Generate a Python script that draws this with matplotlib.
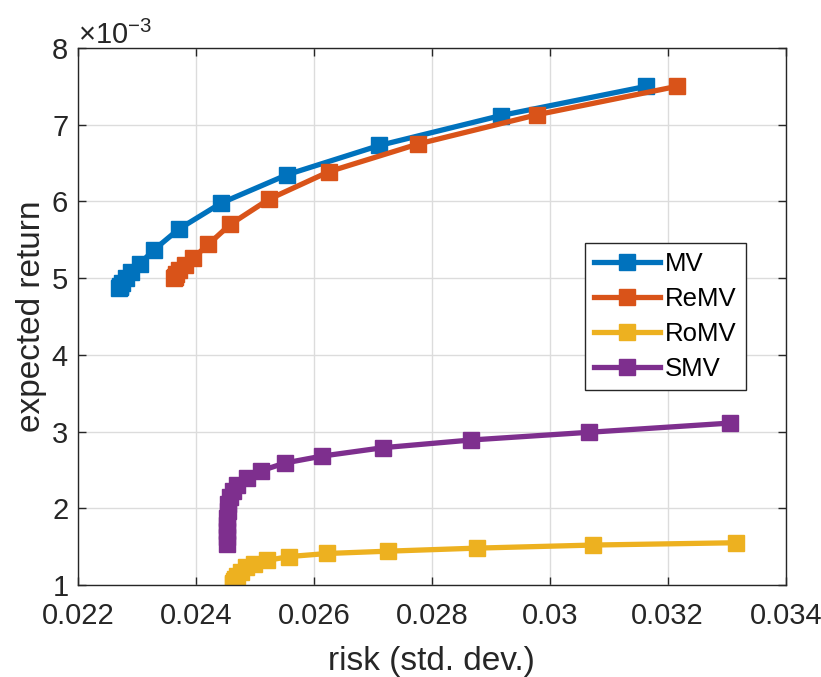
import numpy as np
import matplotlib.pyplot as plt
from matplotlib.ticker import ScalarFormatter

plt.rcParams['font.family'] = ['Liberation Sans', 'DejaVu Sans']
plt.rcParams['mathtext.fontset'] = 'custom'
plt.rcParams['mathtext.rm'] = 'Liberation Sans'

# efficient frontiers: risk (std. dev.) and expected return (x 1e-3)
mv_risk = [0.03163, 0.02917, 0.02711, 0.02555, 0.02443, 0.02371, 0.02329,
           0.02305, 0.02290, 0.02281, 0.02275, 0.02272, 0.02271, 0.02270]
mv_ret = [7.50, 7.12, 6.73, 6.35, 5.98, 5.64, 5.37,
          5.19, 5.08, 5.00, 4.94, 4.90, 4.88, 4.87]

remv_risk = [0.03215, 0.02978, 0.02777, 0.02626, 0.02524, 0.02458, 0.02421,
             0.02395, 0.02382, 0.02372, 0.02366, 0.02364, 0.02363]
remv_ret = [7.50, 7.13, 6.75, 6.39, 6.03, 5.70, 5.44,
            5.26, 5.17, 5.10, 5.05, 5.02, 5.00]

romv_risk = [0.03315, 0.03074, 0.02877, 0.02725, 0.02623, 0.02558, 0.02521,
             0.02499, 0.02485, 0.02477, 0.02470, 0.02466, 0.02464, 0.02463, 0.02463]
romv_ret = [1.55, 1.52, 1.48, 1.44, 1.41, 1.37, 1.32,
            1.27, 1.23, 1.17, 1.12, 1.08, 1.05, 1.03, 1.01]

smv_risk = [0.03305, 0.03066, 0.02867, 0.02718, 0.02614, 0.02551, 0.02511,
            0.02487, 0.02470, 0.02462, 0.02457, 0.02455, 0.02454, 0.02453,
            0.02453, 0.02453, 0.02453, 0.02453]
smv_ret = [3.11, 2.99, 2.89, 2.79, 2.68, 2.59, 2.49,
           2.39, 2.30, 2.22, 2.14, 2.05, 1.96, 1.87,
           1.78, 1.70, 1.62, 1.53]

series = [
    ('MV', mv_risk, mv_ret, '#0072BD'),
    ('ReMV', remv_risk, remv_ret, '#D95319'),
    ('RoMV', romv_risk, romv_ret, '#EDB120'),
    ('SMV', smv_risk, smv_ret, '#7E2F8E'),
]

fig = plt.figure(figsize=(8.21, 6.77), dpi=100)
ax = fig.add_axes([0.095, 0.136, 0.862, 0.793])

for name, r, m, c in series:
    ax.plot(r, np.array(m) * 1e-3, '-s', color=c, lw=3.8, ms=11.5,
            label=name)

ax.set_xlim(0.022, 0.034)
ax.set_ylim(1e-3, 8e-3)
ax.set_xticks(np.arange(0.022, 0.0341, 0.002))
ax.set_xticklabels(['0.022', '0.024', '0.026', '0.028', '0.03', '0.032', '0.034'])

fmt = ScalarFormatter(useMathText=True)
fmt.set_powerlimits((-2, 2))
ax.yaxis.set_major_formatter(fmt)
ax.yaxis.get_offset_text().set_fontsize(21)
ax.yaxis.get_offset_text().set_color('#262626')

ax.grid(True, color='#dcdcdc', lw=1)
ax.set_axisbelow(True)
ax.tick_params(direction='in', top=True, right=True, labelsize=21,
               colors='#262626', length=6, width=1)
ax.tick_params(axis='x', pad=12)
ax.tick_params(axis='y', pad=7)
for s in ax.spines.values():
    s.set_color('#262626')
    s.set_linewidth(1)

ax.set_xlabel('risk (std. dev.)', fontsize=24, color='#262626', labelpad=12)
ax.set_ylabel('expected return', fontsize=24, color='#262626', labelpad=3)

leg = ax.legend(loc='upper left', bbox_to_anchor=(0.717, 0.637), fontsize=18.5,
                fancybox=False, edgecolor='#262626', framealpha=1,
                handlelength=2.55, handletextpad=0.2, borderpad=0.35,
                labelspacing=0.43, borderaxespad=0)
leg.get_frame().set_linewidth(1)

fig.savefig('out.png', dpi=100)
